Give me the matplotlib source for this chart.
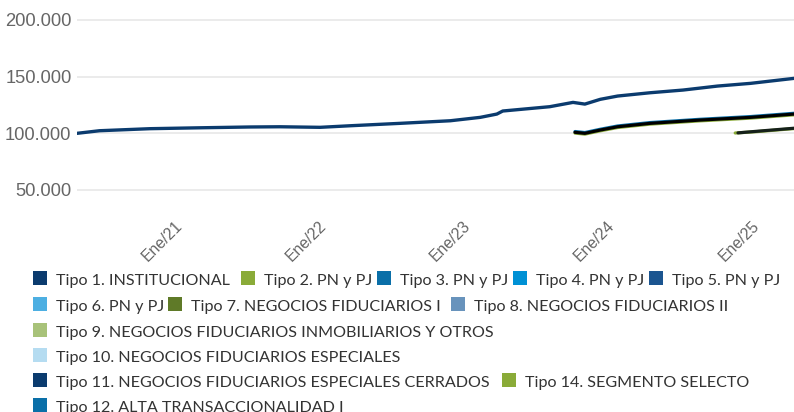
import matplotlib
matplotlib.use('Agg')
import matplotlib.pyplot as plt
import matplotlib.dates as mdates
from matplotlib.patches import Rectangle
from matplotlib.ticker import FuncFormatter, FixedLocator
import datetime as dt

# ---------------- data ----------------
tipo1_dates = ['2020-04-01', '2020-05-28', '2020-10-03', '2021-02-08', '2021-06-13',
               '2021-08-28', '2021-12-08', '2022-02-23', '2022-06-28', '2022-11-03',
               '2023-01-18', '2023-03-01', '2023-03-16', '2023-07-13', '2023-09-10',
               '2023-10-10', '2023-11-18', '2024-01-01', '2024-03-23', '2024-06-15',
               '2024-09-10', '2024-12-03', '2025-03-23']
tipo1_values = [100000, 102300, 104100, 104900, 105600,
                105800, 105300, 106700, 108800, 111100,
                114100, 117000, 119700, 123500, 127300,
                125800, 130000, 132900, 135800, 138200,
                141700, 144100, 148500]

grpA_dates = ['2023-09-15', '2023-10-10', '2023-11-18', '2024-01-01',
              '2024-03-23', '2024-07-28', '2024-12-03', '2025-03-23']
tipo3_values = [101600, 100700, 103600, 106500, 109500, 112400, 114800, 117700]
tipo2_values = [100200, 99300, 102200, 105100, 108100, 111000, 113400, 116300]
tipo13_values = [100900, 100000, 102900, 105800, 108800, 111700, 114100, 117000]

tipo14_dates = ['2024-10-25', '2024-12-15', '2025-03-23']
tipo14_values = [100300, 101400, 104200]
tipo15_dates = ['2024-11-01', '2024-12-15', '2025-03-23']
tipo15_values = [100400, 101700, 104500]

y_ticks = [50000, 100000, 150000, 200000]
x_ticks = ['2021-01-01', '2022-01-01', '2023-01-01', '2024-01-01', '2025-01-01']
x_tick_labels = ['Ene/21', 'Ene/22', 'Ene/23', 'Ene/24', 'Ene/25']

legend_labels = ['Tipo 1. INSTITUCIONAL', 'Tipo 2. PN y PJ', 'Tipo 3. PN y PJ',
                 'Tipo 4. PN y PJ', 'Tipo 5. PN y PJ', 'Tipo 6. PN y PJ',
                 'Tipo 7. NEGOCIOS FIDUCIARIOS I', 'Tipo 8. NEGOCIOS FIDUCIARIOS II',
                 'Tipo 9. NEGOCIOS FIDUCIARIOS INMOBILIARIOS Y OTROS',
                 'Tipo 10. NEGOCIOS FIDUCIARIOS ESPECIALES',
                 'Tipo 11. NEGOCIOS FIDUCIARIOS ESPECIALES CERRADOS',
                 'Tipo 14. SEGMENTO SELECTO',
                 'Tipo 12. ALTA TRANSACCIONALIDAD I']
legend_colors = ['#0b3b6e', '#8aab38', '#0a6fa8', '#0091d5', '#1b5590', '#4dafe2',
                 '#5f7a28', '#6893bc', '#a8c279', '#b5dcf1', '#0b3b6e', '#8aab38',
                 '#0a6fa8']
legend_rows = [[0, 1, 2, 3, 4], [5, 6, 7], [8], [9], [10, 11], [12]]

# ---------------- figure ----------------
W, H = 794, 412
fig = plt.figure(figsize=(W / 100, H / 100), dpi=100)

def fx(px):
    return px / W

def fy(py):
    return 1 - py / H

ax_left, ax_right, ax_top, ax_bottom = 77, 794, 18, 200
ax = fig.add_axes([fx(ax_left), fy(ax_bottom), fx(ax_right - ax_left), (ax_bottom - ax_top) / H])

def d(lst):
    return [dt.datetime.strptime(s, '%Y-%m-%d') for s in lst]

ax.plot(d(tipo1_dates), tipo1_values, color='#0b3b6e', lw=2.4, solid_capstyle='round', zorder=3)
ax.plot(d(grpA_dates), tipo3_values, color='#0a6fa8', lw=2.3, solid_capstyle='round', zorder=3)
ax.plot(d(grpA_dates), tipo2_values, color='#8aab38', lw=2.3, solid_capstyle='round', zorder=3)
ax.plot(d(grpA_dates), tipo13_values, color='#000000', lw=2.3, solid_capstyle='round', zorder=4)
ax.plot(d(tipo14_dates), tipo14_values, color='#8aab38', lw=2.3, solid_capstyle='round', zorder=3)
ax.plot(d(tipo15_dates), tipo15_values, color='#15201a', lw=2.3, solid_capstyle='round', zorder=4)

# y axis: 200000 at px 20, 50000 at px 190
ppu = (190 - 20) / 150000.0
ylo = 50000 - (ax_bottom - 190) / ppu
yhi = 200000 + (20 - ax_top) / ppu
ax.set_ylim(ylo, yhi)
ax.set_xlim(dt.datetime(2020, 4, 1), dt.datetime(2025, 3, 23))

ax.yaxis.set_major_locator(FixedLocator(y_ticks))
ax.yaxis.set_major_formatter(FuncFormatter(lambda v, p: f"{int(round(v)):,}".replace(',', '.')))
ax.set_xticks(mdates.date2num(d(x_ticks)))
ax.set_xticklabels(x_tick_labels)

ax.grid(axis='y', color='#e6e6e6', lw=1.1, zorder=0)
ax.grid(axis='x', visible=False)
for s in ax.spines.values():
    s.set_visible(False)
ax.tick_params(axis='y', length=0, pad=4, labelsize=13.2, labelcolor='#666666')
ax.tick_params(axis='x', length=0, pad=13, labelsize=11.4, labelcolor='#666666')
for lab in ax.get_yticklabels():
    lab.set_fontfamily('Liberation Sans')
for lab in ax.get_xticklabels():
    lab.set_fontfamily('Liberation Sans')
    lab.set_rotation(45)
    lab.set_ha('right')
    lab.set_va('top')

# ---------------- legend ----------------
renderer = fig.canvas.get_renderer()
probe = fig.text(0, 0, legend_labels[7], fontfamily='Lato', fontsize=12)
pw = probe.get_window_extent(renderer).width
probe.remove()
leg_fs = 12 * 253.0 / pw

row_baselines = [285, 311, 336.5, 361.8, 387, 412.3]
row_item_x = [[33, 241, 377, 513, 649], [33, 168, 451], [33], [33], [33, 502], [33]]
sq = 14
for r, items in enumerate(legend_rows):
    base = row_baselines[r]
    for k, i in enumerate(items):
        x = row_item_x[r][k]
        fig.patches.append(Rectangle((fx(x), fy(base)), sq / W, sq / H,
                                     transform=fig.transFigure, facecolor=legend_colors[i],
                                     edgecolor='none'))
        fig.text(fx(x + sq + 9), fy(base), legend_labels[i], fontfamily='Lato',
                 fontsize=leg_fs, color='#333333', ha='left', va='baseline')

fig.savefig('out.png', dpi=100)
